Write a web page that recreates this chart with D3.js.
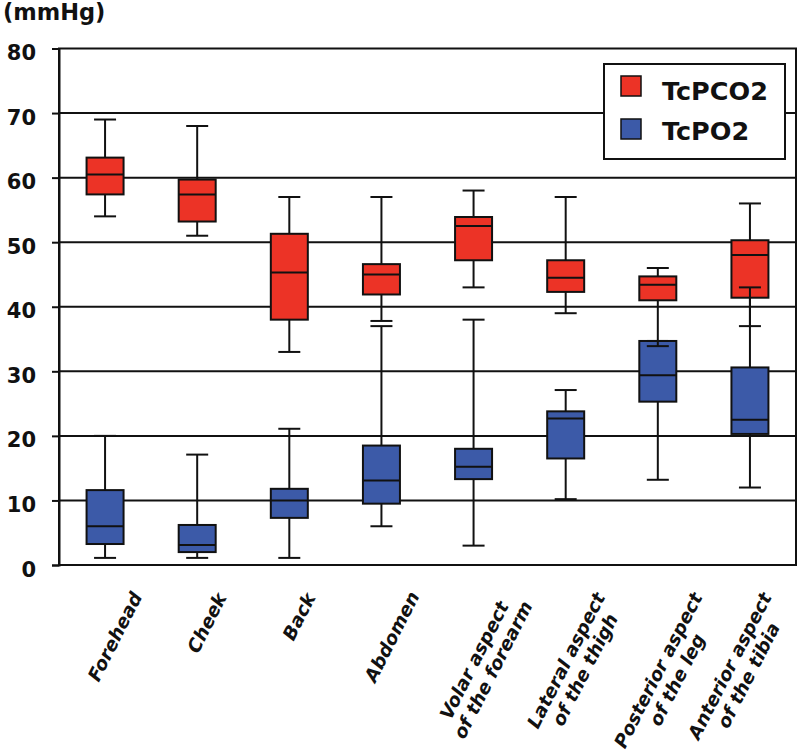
<!DOCTYPE html>
<html><head><meta charset="utf-8">
<script src="https://cdn.jsdelivr.net/npm/d3@7"></script>
<style>body{margin:0;background:#fff}svg{display:block}text{font-family:"DejaVu Sans",sans-serif;font-weight:bold}</style>
</head><body><svg id="c" width="800" height="756"></svg>
<script>
const categories = [
  ["Forehead"], ["Cheek"], ["Back"], ["Abdomen"],
  ["Volar aspect", "of the forearm"], ["Lateral aspect", "of the thigh"],
  ["Posterior aspect", "of the leg"], ["Anterior aspect", "of the tibia"]
];
const seriesNames = ["TcPCO2", "TcPO2"];
// [min, q1, median, q3, max]
const tcpco2 = [
  [54, 57.4, 60.5, 63.1, 69],
  [51, 53.2, 57.4, 59.7, 68],
  [33, 38, 45.3, 51.3, 57],
  [37.8, 41.9, 45, 46.6, 57],
  [43, 47.2, 52.5, 53.9, 58],
  [39, 42.3, 44.5, 47.2, 57],
  [33.9, 41, 43.4, 44.7, 46],
  [37, 41.4, 48, 50.3, 56]
];
const tcpo2 = [
  [1.1, 3.25, 6, 11.6, 20],
  [1.1, 2, 3.1, 6.2, 17.1],
  [1.1, 7.3, 10, 11.8, 21.1],
  [6, 9.5, 13.1, 18.5, 37],
  [3, 13.3, 15.2, 18, 38],
  [10.2, 16.5, 22.7, 23.8, 27.1],
  [13.2, 25.3, 29.4, 34.7, 34.7],
  [12, 20.3, 22.5, 30.6, 43]
];
const yTicks = [0, 10, 20, 30, 40, 50, 60, 70, 80];
const unitLabel = "(mmHg)";

const colors = ["#ec3326", "#3c5aa8"];
const svg = d3.select("#c");
const L = 59, R = 796, T = 48.5, B = 565;
const x = d3.scaleBand().domain(d3.range(categories.length)).range([L, R]).padding(0);
const y = d3.scaleLinear().domain([0, 80]).range([B, T]);

// gridlines
svg.append("g").selectAll("line").data(yTicks.filter(d => d > 0 && d < 80)).join("line")
  .attr("x1", L).attr("x2", R).attr("y1", d => y(d)).attr("y2", d => y(d))
  .attr("stroke", "#111").attr("stroke-width", 2);

// frame
svg.append("rect").attr("x", L).attr("y", y(80)).attr("width", R - L).attr("height", B - y(80))
  .attr("fill", "none").attr("stroke", "#111").attr("stroke-width", 2);

// y axis
const yAxis = d3.axisLeft(y).tickValues(yTicks).tickSize(7).tickFormat(d3.format("d"));
const ya = svg.append("g").attr("transform", `translate(${L},0)`).call(yAxis);
ya.select(".domain").attr("stroke", "#111").attr("stroke-width", 2);
ya.selectAll(".tick line").attr("stroke", "#111").attr("stroke-width", 2);
ya.selectAll(".tick text")
  .attr("x", -23).attr("dy", null).attr("y", 11)
  .attr("text-anchor", "end")
  .style("font-size", "21px").style("font-weight", "bold").attr("fill", "#111");

svg.append("text").attr("x", 3).attr("y", 20)
  .style("font-size", "22.5px").attr("fill", "#111").text(unitLabel);

const bw = 37, cw = 22;
const all = [tcpco2, tcpo2];
// boxes
all.forEach((ser, si) => {
  const g = svg.append("g");
  ser.forEach((s, i) => {
    const cx = x(i) + x.bandwidth() / 2;
    g.append("rect").attr("x", cx - bw / 2).attr("y", y(s[3])).attr("width", bw)
      .attr("height", y(s[1]) - y(s[3])).attr("fill", colors[si]).attr("stroke", "#111").attr("stroke-width", 2);
    g.append("line").attr("x1", cx - bw / 2).attr("x2", cx + bw / 2).attr("y1", y(s[2])).attr("y2", y(s[2]))
      .attr("stroke", "#111").attr("stroke-width", 2);
  });
});
// whiskers
all.forEach((ser, si) => {
  const g = svg.append("g").attr("stroke", "#111").attr("stroke-width", 2);
  ser.forEach((s, i) => {
    const cx = x(i) + x.bandwidth() / 2;
    g.append("line").attr("x1", cx).attr("x2", cx).attr("y1", y(s[3])).attr("y2", y(s[4]));
    g.append("line").attr("x1", cx).attr("x2", cx).attr("y1", y(s[1])).attr("y2", y(s[0]));
    g.append("line").attr("x1", cx - cw / 2).attr("x2", cx + cw / 2).attr("y1", y(s[4])).attr("y2", y(s[4]));
    g.append("line").attr("x1", cx - cw / 2).attr("x2", cx + cw / 2).attr("y1", y(s[0])).attr("y2", y(s[0]));
  });
});

// category labels
categories.forEach((lines, i) => {
  const cx = x(i) + x.bandwidth() / 2;
  const g = svg.append("g");
  const r = g.append("g").attr("transform", "rotate(-63)");
  const texts = lines.map((ln, k) => r.append("text").style("font-size", "18.5px")
    .style("font-style", "oblique").attr("fill", "#111").attr("text-anchor", "middle")
    .attr("y", k * 21).text(ln));
  const W = d3.max(texts, t => t.node().getComputedTextLength());
  texts.forEach(t => t.attr("x", -W / 2));
  const bb = g.node().getBBox();
  let tx = cx + 10 - (bb.x + bb.width / 2);
  if (tx + bb.x + bb.width > 795) tx = 795 - bb.x - bb.width;
  g.attr("transform", `translate(${tx},${588 - bb.y})`);
});

// legend
const lg = svg.append("g");
lg.append("rect").attr("x", 604).attr("y", 64).attr("width", 181).attr("height", 95)
  .attr("fill", "#fff").attr("stroke", "#111").attr("stroke-width", 2);
seriesNames.forEach((n, k) => {
  lg.append("rect").attr("x", 621).attr("y", 76 + k * 43).attr("width", 20).attr("height", 20)
    .attr("fill", colors[k]).attr("stroke", "#111").attr("stroke-width", 1.5);
  lg.append("text").attr("x", 662).attr("y", 100 + k * 40).style("font-size", "25.5px")
    .attr("fill", "#111").text(n);
});
</script></body></html>
